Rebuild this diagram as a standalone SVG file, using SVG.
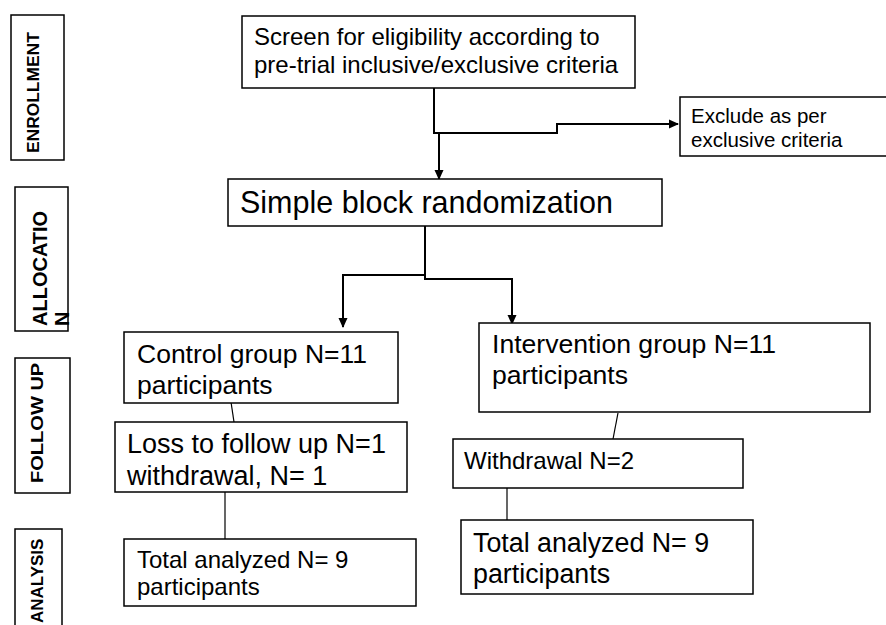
<svg xmlns="http://www.w3.org/2000/svg" width="886" height="625" viewBox="0 0 886 625">
<style>
.box{fill:#fff;stroke:#000;stroke-width:1.5}
.t{font-family:"Liberation Sans",Arial,sans-serif;fill:#000}
.lab{font-family:"Liberation Sans",Arial,sans-serif;font-weight:700;fill:#000}
.c{fill:none;stroke:#000;stroke-width:2}
.thin{fill:none;stroke:#000;stroke-width:1.2}
</style>
<defs>
<marker id="ah" markerWidth="10" markerHeight="10" refX="9" refY="5" orient="auto" markerUnits="userSpaceOnUse">
<path d="M0,0.5 L10,5 L0,9.5 z" fill="#000"/>
</marker>
</defs>
<rect width="886" height="625" fill="#fff"/>

<g id="stage-enrollment">
<rect class="box" x="11" y="15" width="53" height="145"/>
<text class="lab" font-size="17.4" transform="translate(39,153) rotate(-90)">ENROLLMENT</text>
</g>
<g id="stage-allocation">
<rect class="box" x="15" y="187" width="53" height="144"/>
<text class="lab" font-size="20" transform="translate(47,326) rotate(-90)">ALLOCATIO</text>
<text class="lab" font-size="20" transform="translate(68.5,326) rotate(-90)">N</text>
</g>
<g id="stage-followup">
<rect class="box" x="15" y="358" width="55" height="135"/>
<text class="lab" font-size="17" transform="translate(43,483) rotate(-90) scale(1.18,1)">FOLLOW UP</text>
</g>
<g id="stage-analysis">
<rect class="box" x="15" y="529" width="47" height="100"/>
<text class="lab" font-size="17" transform="translate(43,623) rotate(-90)">ANALYSIS</text>
</g>

<g id="connectors">
<polyline class="c" points="434,88 434,133 557,133 557,124 678,124" marker-end="url(#ah)"/>
<polyline class="c" points="439,133 439,179" marker-end="url(#ah)"/>
<polyline class="c" points="425,226 425,275 343,275 343,327" marker-end="url(#ah)"/>
<polyline class="c" points="425,275 425,279 512,279 512,324" marker-end="url(#ah)"/>
<line class="thin" x1="228" y1="382" x2="234" y2="422"/>
<line class="thin" x1="225" y1="492" x2="225" y2="539"/>
<line class="thin" x1="618" y1="413" x2="613" y2="439"/>
<line class="thin" x1="507" y1="485" x2="507" y2="520"/>
</g>

<g id="screen">
<rect class="box" x="242" y="16" width="393" height="72"/>
<text class="t" font-size="24" x="254" y="45">Screen for eligibility according to</text>
<text class="t" font-size="24" x="254" y="73">pre-trial inclusive/exclusive criteria</text>
</g>
<g id="exclude">
<rect class="box" x="680" y="97" width="210" height="59"/>
<text class="t" font-size="20.5" x="691" y="123">Exclude as per</text>
<text class="t" font-size="20.5" x="691" y="147">exclusive criteria</text>
</g>
<g id="randomization">
<rect class="box" x="228" y="179" width="434" height="47"/>
<text class="t" font-size="30.5" x="240" y="213">Simple block randomization</text>
</g>
<g id="control">
<rect class="box" x="124" y="332" width="274" height="71"/>
<text class="t" font-size="26.5" x="137" y="363">Control group N=11</text>
<text class="t" font-size="26.5" x="137" y="394">participants</text>
</g>
<g id="loss">
<rect class="box" x="115" y="422" width="292" height="70"/>
<text class="t" font-size="27" x="127" y="453">Loss to follow up N=1</text>
<text class="t" font-size="27" x="127" y="485">withdrawal, N= 1</text>
</g>
<g id="total-control">
<rect class="box" x="124" y="539" width="292" height="67"/>
<text class="t" font-size="24" x="137" y="568">Total analyzed N= 9</text>
<text class="t" font-size="24" x="137" y="595">participants</text>
</g>
<g id="intervention">
<rect class="box" x="479" y="323" width="391" height="89"/>
<text class="t" font-size="26.6" x="492" y="353">Intervention group N=11</text>
<text class="t" font-size="26.6" x="492" y="384">participants</text>
</g>
<g id="withdrawal">
<rect class="box" x="453" y="439" width="290" height="49"/>
<text class="t" font-size="24" x="464" y="469">Withdrawal N=2</text>
</g>
<g id="total-intervention">
<rect class="box" x="461" y="520" width="292" height="74"/>
<text class="t" font-size="26.8" x="473" y="552">Total analyzed N= 9</text>
<text class="t" font-size="26.8" x="473" y="583">participants</text>
</g>
</svg>
